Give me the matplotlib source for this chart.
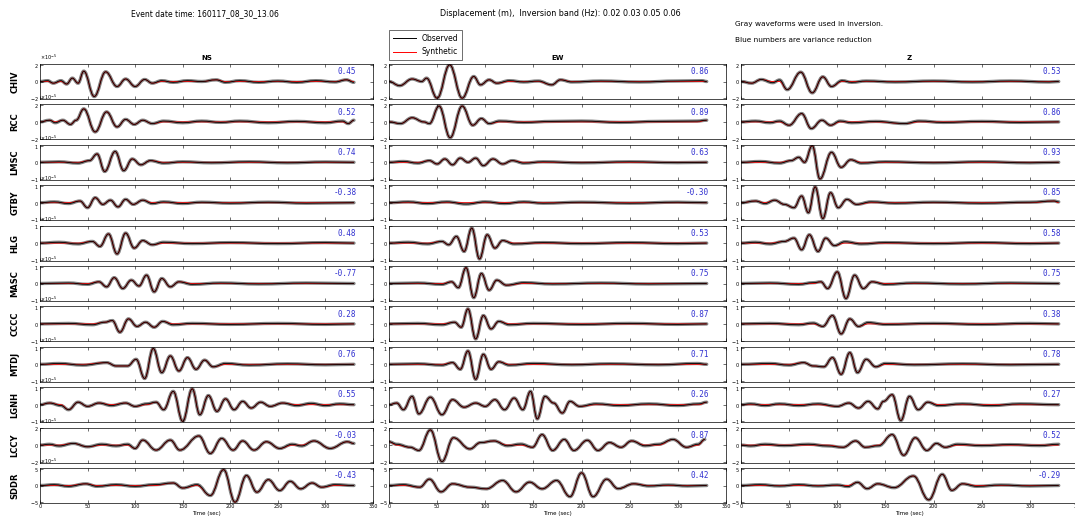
import numpy as np
import matplotlib
matplotlib.use('Agg')
import matplotlib.pyplot as plt
from matplotlib.ticker import ScalarFormatter
from matplotlib.lines import Line2D
from matplotlib.path import Path
from matplotlib.patches import PathPatch

stations = ['CHIV', 'RCC', 'LMSC', 'GTBY', 'HLG', 'MASC', 'CCCC', 'MTDJ', 'LGNH', 'LCCY', 'SDDR']
components = ['NS', 'EW', 'Z']

# y-limits of each station row, in units of 1e-5 m
amp_e5 = [2, 2, 1, 1, 1, 1, 1, 1, 1, 2, 5]

# variance reduction (blue numbers)
vr_ns = [0.45, 0.52, 0.74, -0.38, 0.48, -0.77, 0.28, 0.76, 0.55, -0.03, -0.43]
vr_ew = [0.86, 0.89, 0.63, -0.30, 0.53, 0.75, 0.87, 0.71, 0.26, 0.87, 0.42]
vr_z = [0.53, 0.86, 0.93, 0.85, 0.58, 0.75, 0.38, 0.78, 0.27, 0.52, -0.29]

# observed waveforms: (time s, amplitude relative to row limit)
ns_traces = [
    [(0, 0), (8, 0.05), (14, -0.1), (22, 0.05), (28, -0.15), (34, 0.2), (40, -0.1), (46, 0.62), (57, -0.9), (69, 0.58),
     (81, -0.3), (90, 0.15), (100, -0.3), (110, 0.12), (118, -0.1), (128, 0.05), (140, -0.05), (155, 0.05), (170, 0),
     (185, 0.1), (195, -0.05), (210, 0.05), (230, -0.05), (250, 0.03), (270, -0.05), (290, 0.05), (310, -0.03),
     (322, 0.1), (330, -0.05)],
    [(0, 0), (10, 0.1), (16, -0.05), (24, 0.1), (32, -0.15), (38, 0.1), (46, 0.78), (58, -0.6), (70, 0.6), (81, -0.3),
     (90, 0.15), (99, -0.15), (108, 0.1), (118, -0.1), (130, 0.05), (150, -0.05), (170, 0.05), (190, -0.03),
     (210, 0.05), (240, -0.05), (270, 0.03), (300, -0.05), (318, 0.05), (324, -0.1), (330, 0.1)],
    [(0, 0), (20, 0.03), (40, -0.05), (52, 0.1), (60, 0.5), (68, -0.55), (79, 0.65), (88, -0.5), (97, 0.2),
     (106, -0.15), (116, 0.1), (130, -0.05), (150, 0.03), (180, -0.03), (220, 0.03), (260, -0.03), (300, 0.02), (330, 0)],
    [(0, 0), (15, 0.05), (30, -0.05), (42, 0.1), (50, -0.3), (58, 0.3), (66, -0.1), (74, 0.15), (82, -0.25), (90, 0.2),
     (98, -0.1), (108, 0.15), (118, -0.05), (130, 0.05), (150, -0.05), (170, 0.03), (200, -0.03), (240, 0.03),
     (280, -0.03), (330, 0)],
    [(0, 0), (20, 0.05), (40, -0.05), (55, 0.1), (63, -0.2), (72, 0.55), (81, -0.65), (90, 0.6), (99, -0.3), (108, 0.15),
     (118, -0.1), (130, 0.05), (160, -0.03), (200, 0.03), (250, -0.03), (300, 0.03), (330, 0)],
    [(0, 0), (30, 0.03), (50, -0.05), (62, 0.1), (70, -0.2), (78, 0.35), (87, -0.3), (96, 0.2), (104, -0.15), (112, 0.5),
     (120, -0.5), (128, 0.3), (137, -0.2), (146, 0.1), (160, -0.05), (190, 0.03), (230, -0.03), (280, 0.03), (330, 0)],
    [(0, 0), (30, 0.03), (55, -0.05), (68, 0.1), (76, 0.2), (84, -0.5), (93, 0.3), (102, -0.15), (111, 0.1),
     (120, -0.2), (129, 0.15), (140, -0.05), (160, 0.03), (200, -0.03), (250, 0.03), (300, -0.03), (330, 0)],
    [(0, 0), (20, 0.05), (45, -0.05), (70, 0.1), (80, -0.1), (92, -0.1), (101, 0.3), (110, -0.85), (119, 0.95),
     (128, -0.5), (137, 0.5), (146, -0.4), (155, 0.4), (164, -0.3), (173, 0.25), (182, -0.15), (195, 0.05),
     (220, -0.05), (260, 0.03), (300, -0.03), (330, 0)],
    [(0, 0), (10, 0.1), (22, -0.05), (30, -0.3), (40, 0.15), (50, -0.1), (62, 0.1), (75, -0.05), (90, 0.1),
     (100, -0.1), (112, 0.05), (122, 0.15), (130, -0.3), (140, 0.8), (150, -1.0), (160, 0.95), (168, -0.6),
     (177, 0.55), (186, -0.4), (195, 0.35), (204, -0.3), (213, 0.2), (222, -0.2), (232, 0.15), (242, -0.1),
     (255, 0.1), (270, -0.05), (285, 0.08), (300, -0.05), (315, 0.05), (330, 0)],
    [(0, 0), (10, 0.05), (20, -0.05), (35, 0.1), (50, -0.1), (65, 0.05), (80, -0.05), (92, 0.05), (100, -0.2),
     (108, 0.3), (122, -0.3), (137, 0.3), (147, -0.3), (167, 0.55), (179, -0.5), (191, 0.4), (203, -0.3),
     (213, 0.25), (225, -0.3), (238, 0.2), (252, -0.2), (265, 0.05), (275, -0.05), (288, 0.25), (305, -0.2),
     (323, 0.2), (330, 0.1)],
    [(0, 0), (15, 0.05), (30, -0.05), (48, 0.1), (60, -0.05), (80, 0.05), (100, -0.05), (120, 0.05), (140, 0.15),
     (150, -0.15), (165, 0.05), (179, -0.6), (193, 0.95), (205, -1.0), (217, 0.6), (228, -0.4), (240, 0.35),
     (252, -0.3), (263, 0.25), (274, -0.2), (286, 0.15), (296, -0.1), (310, 0.05), (330, 0)],
]

ew_traces = [
    [(0, 0), (11, -0.25), (24, 0.15), (34, 0.0), (39, 0.2), (50, -1.0), (63, 1.0), (76, -1.0), (88, 0.3), (95, -0.2),
     (104, 0.1), (112, -0.1), (125, 0.05), (140, -0.03), (155, 0.03), (169, -0.2), (178, 0.1), (190, -0.03),
     (220, 0.03), (260, -0.03), (300, 0.03), (325, 0.05), (330, 0)],
    [(0, 0), (12, -0.1), (24, 0.25), (36, 0.0), (42, -0.1), (52, 0.95), (63.5, -0.95), (76, 0.95), (87, -0.2),
     (96, 0.2), (104, -0.1), (115, 0.05), (140, -0.03), (170, 0.03), (200, 0.05), (240, -0.03), (280, 0.03),
     (320, 0.05), (330, 0.1)],
    [(0, 0), (15, 0.05), (30, -0.05), (42, 0.1), (50, -0.1), (58, 0.2), (66, -0.15), (74, 0.25), (82, 0.0), (90, 0.25),
     (98, -0.2), (108, 0.2), (118, -0.1), (128, 0.1), (140, -0.05), (160, 0.03), (200, -0.03), (250, 0.03),
     (300, -0.02), (330, 0)],
    [(0, 0), (20, 0.05), (40, -0.05), (60, 0.05), (80, -0.08), (100, 0.05), (120, -0.05), (140, 0.05), (160, -0.03),
     (200, 0.03), (250, -0.03), (300, 0.03), (330, 0)],
    [(0, 0), (20, 0.05), (40, -0.05), (55, 0.1), (62, -0.1), (70, 0.4), (78, -0.5), (86, 0.9), (94, -0.95),
     (102, 0.5), (110, -0.3), (118, 0.15), (130, -0.05), (160, 0.03), (200, -0.03), (250, 0.03), (300, -0.03), (330, 0)],
    [(0, 0), (30, 0.03), (55, -0.05), (65, 0.1), (72, -0.25), (80, 0.95), (88, -0.85), (96, 0.6), (104, -0.4),
     (112, 0.2), (122, -0.1), (140, 0.05), (170, -0.03), (220, 0.03), (270, -0.03), (330, 0)],
    [(0, 0), (30, 0.03), (55, -0.05), (68, 0.1), (75, -0.2), (82, 0.9), (90, -0.9), (98, 0.5), (106, -0.3),
     (114, 0.15), (125, -0.05), (150, 0.03), (200, -0.03), (250, 0.03), (300, -0.03), (330, 0)],
    [(0, 0), (30, 0.03), (55, -0.05), (66, 0.1), (74, -0.3), (82, 0.8), (90, -0.9), (98, 0.6), (106, -0.3),
     (114, 0.15), (125, -0.05), (150, 0.05), (190, -0.03), (230, 0.03), (280, -0.03), (320, 0.05), (330, 0)],
    [(0, 0), (8, 0.1), (15, -0.3), (24, 0.5), (31, -0.55), (43, 0.45), (55, -0.6), (66, 0.3), (78, -0.15), (90, 0.1),
     (100, -0.1), (110, 0.3), (120, -0.3), (130, 0.4), (139, -0.3), (147, 0.8), (154, -0.85), (162, 0.5),
     (171, 0.1), (180, -0.5), (188, 0.2), (198, -0.1), (215, 0.05), (240, -0.05), (270, 0.05), (300, -0.05),
     (322, 0.05), (330, 0.15)],
    [(0, 0.2), (8, 0.05), (22, -0.13), (31, -0.32), (43, 0.91), (55, -0.99), (67, 0.44), (84, -0.23), (95, 0.15),
     (109, 0.25), (123, -0.04), (137, 0.06), (149, -0.13), (159, 0.63), (170, -0.32), (182, 0.34), (192, -0.32),
     (206, 0.29), (217, -0.32), (229, 0.15), (241, -0.13), (252, 0.25), (266, -0.04), (280, 0.05), (295, 0.34),
     (309, -0.13), (321, 0.05), (328, 0.34)],
    [(0, 0), (15, 0.05), (32, -0.1), (42, 0.38), (54, -0.38), (66, 0.1), (84, -0.1), (101, -0.2), (118, 0.3),
     (132, -0.38), (146, 0.2), (159, -0.2), (174, 0.3), (188, -0.67), (200, 0.76), (212, -0.67), (226, 0.38),
     (238, -0.19), (254, 0.1), (270, -0.03), (290, 0.03), (310, -0.03), (330, 0)],
]

z_traces = [
    [(0, 0), (11, -0.1), (21, 0.12), (33, -0.07), (40, 0.09), (48, -0.49), (62, 0.56), (74, -0.68), (85, 0.28),
     (94, -0.3), (105, 0.05), (115, -0.05), (130, 0.03), (160, -0.03), (200, 0.03), (240, -0.03), (280, 0.03),
     (320, -0.03), (330, 0)],
    [(0, 0), (15, 0.05), (30, -0.05), (40, 0.05), (50, -0.2), (63, 0.5), (73, -0.4), (84, 0.1), (93, -0.2),
     (103, 0.05), (115, -0.05), (140, 0.03), (170, -0.1), (185, 0.05), (210, -0.03), (250, 0.03), (290, -0.03), (330, 0)],
    [(0, 0), (20, 0.05), (40, -0.05), (52, 0.1), (60, 0.3), (66, 0.0), (74, 1.0), (82, -1.0), (94, 0.6), (104, -0.3),
     (114, 0.15), (125, -0.05), (150, 0.03), (200, -0.03), (250, 0.03), (300, -0.03), (330, 0)],
    [(0, 0), (15, 0.1), (25, -0.05), (35, 0.15), (45, -0.1), (55, -0.3), (63, 0.4), (70, -0.6), (77, 0.95),
     (85, -0.95), (93, 0.6), (101, -0.3), (110, 0.2), (120, -0.1), (135, 0.05), (160, -0.03), (200, 0.03),
     (250, -0.03), (300, 0.03), (325, 0.1), (330, 0.05)],
    [(0, 0), (15, 0.05), (30, -0.05), (45, 0.1), (55, 0.3), (63, -0.4), (71, 0.5), (80, -0.5), (88, 0.3), (97, -0.15),
     (108, 0.08), (125, -0.05), (150, 0.03), (200, -0.03), (250, 0.03), (300, -0.03), (330, 0)],
    [(0, 0), (30, 0.03), (60, -0.05), (75, 0.05), (83, 0.1), (90, -0.3), (100, 0.7), (109, -0.9), (118, 0.5),
     (127, -0.3), (136, 0.1), (150, -0.05), (180, 0.03), (230, -0.03), (280, 0.03), (330, 0)],
    [(0, 0), (30, 0.03), (60, -0.05), (75, 0.05), (85, -0.15), (95, 0.5), (104, -0.6), (113, 0.3), (122, -0.15),
     (132, 0.08), (150, -0.03), (200, 0.03), (250, -0.03), (300, 0.03), (330, 0)],
    [(0, 0), (30, 0.05), (50, -0.05), (65, 0.1), (75, -0.1), (86, -0.15), (95, 0.4), (104, -0.6), (113, 0.7),
     (121, -0.5), (130, 0.3), (140, -0.15), (150, 0.05), (180, -0.03), (230, 0.03), (280, -0.03), (330, 0)],
    [(0, 0), (10, 0.05), (25, -0.05), (40, 0.05), (60, -0.05), (80, 0.05), (100, -0.1), (112, 0.1), (122, -0.2),
     (132, 0.2), (142, -0.25), (148, 0.2), (157, 0.6), (166, -0.95), (175, 0.5), (184, -0.3), (194, 0.15),
     (205, -0.05), (230, 0.05), (260, -0.05), (290, 0.05), (330, 0)],
    [(0, 0), (10, -0.05), (25, 0.05), (45, -0.03), (70, 0.05), (90, -0.05), (106, -0.13), (119, 0.25), (129, -0.13),
     (143, -0.04), (157, 0.63), (169, -0.61), (181, 0.44), (193, -0.32), (203, 0.1), (212, -0.13), (225, 0.05),
     (250, -0.03), (280, 0.03), (310, -0.03), (330, 0.05)],
    [(0, 0), (20, 0.05), (40, -0.03), (60, 0.05), (80, -0.03), (100, 0.03), (111, -0.06), (121, 0.19), (131, -0.19),
     (142, 0.1), (159, -0.13), (179, 0.57), (195, -0.86), (209, 0.67), (219, -0.29), (230, 0.1), (245, -0.05),
     (270, 0.03), (300, -0.03), (330, 0)],
]

all_traces = [ns_traces, ew_traces, z_traces]
all_vr = [vr_ns, vr_ew, vr_z]


def wave_path(t, y):
    # smooth curve through the read-off extrema (flat tangents at each point)
    verts = [(t[0], y[0])]
    codes = [Path.MOVETO]
    for i in range(len(t) - 1):
        d = (t[i + 1] - t[i]) * 0.4
        verts += [(t[i] + d, y[i]), (t[i + 1] - d, y[i + 1]), (t[i + 1], y[i + 1])]
        codes += [Path.CURVE4] * 3
    return Path(verts, codes)


W, H = 1075, 522
fig = plt.figure(figsize=(W / 100, H / 100), dpi=100)

col_left = [40, 389, 741]
col_w = [333, 337, 337]
row_top0 = 64
row_pitch = 40.4
row_h = 35

for c in range(3):
    for r in range(len(stations)):
        top = row_top0 + r * row_pitch
        ax = fig.add_axes([col_left[c] / W, 1 - (top + row_h) / H, col_w[c] / W, row_h / H])
        amp = amp_e5[r] * 1e-5
        trace = all_traces[c][r]
        t = np.array([p[0] for p in trace])
        a = np.array([p[1] for p in trace]) * amp
        # synthetic: same arrivals, without the smallest noise wiggles
        s = np.array([p[1] if abs(p[1]) >= 0.1 else 0.0 for p in trace]) * amp

        ax.add_patch(PathPatch(wave_path(t, a), fill=False, edgecolor='0.5', lw=2.4, capstyle='round'))
        ax.add_patch(PathPatch(wave_path(t, s), fill=False, edgecolor='red', lw=0.6))
        ax.add_patch(PathPatch(wave_path(t, a), fill=False, edgecolor='black', lw=0.6))

        ax.set_xlim(0, 350)
        ax.set_ylim(-1.05 * amp, 1.05 * amp)
        ax.set_xticks(range(0, 351, 50))
        ax.set_yticks([-amp, 0, amp])
        fmt = ScalarFormatter(useMathText=True)
        fmt.set_powerlimits((0, 0))
        ax.yaxis.set_major_formatter(fmt)
        ax.yaxis.get_offset_text().set_fontsize(3.5)
        if c > 0:
            ax.yaxis.get_offset_text().set_visible(False)
        ax.tick_params(direction='in', length=2, width=0.4, top=True, right=True, labelsize=3.5, pad=1)
        if r < len(stations) - 1:
            ax.set_xticklabels([])
        else:
            ax.set_xlabel('Time (sec)', fontsize=4, labelpad=1)
        for sp in ax.spines.values():
            sp.set_linewidth(0.5)

        vr = all_vr[c][r]
        ax.text(0.95, 0.78, f'{vr:.2f}', transform=ax.transAxes, ha='right', va='center',
                color='#3030d0', fontsize=5.5, family='DejaVu Sans Mono')

        if r == 0:
            ax.set_title(components[c], fontsize=5, fontweight='bold', pad=3)

for r, name in enumerate(stations):
    yc = row_top0 + r * row_pitch + row_h / 2
    fig.text(15 / W, 1 - yc / H, name, rotation=90, fontsize=6, fontweight='bold', ha='center', va='center')

fig.text(205 / W, 1 - 14 / H, 'Event date time: 160117_08_30_13.06', fontsize=5.5, ha='center', va='center')
fig.text(560 / W, 1 - 14 / H, 'Displacement (m),  Inversion band (Hz): 0.02 0.03 0.05 0.06',
         fontsize=5.8, ha='center', va='center')
fig.text(735 / W, 1 - 24 / H, 'Gray waveforms were used in inversion.', fontsize=5.3, ha='left', va='center')
fig.text(735 / W, 1 - 40 / H, 'Blue numbers are variance reduction', fontsize=5.3, ha='left', va='center')

handles = [Line2D([], [], color='black', lw=0.7), Line2D([], [], color='red', lw=0.7)]
leg = fig.legend(handles, ['Observed', 'Synthetic'], loc='upper left', bbox_to_anchor=(385 / W, 1 - 26 / H),
                 fontsize=5.5, frameon=True, fancybox=False, edgecolor='black', handlelength=3,
                 borderpad=0.5, labelspacing=0.6)
leg.get_frame().set_linewidth(0.5)

fig.savefig('out.png', dpi=100)
